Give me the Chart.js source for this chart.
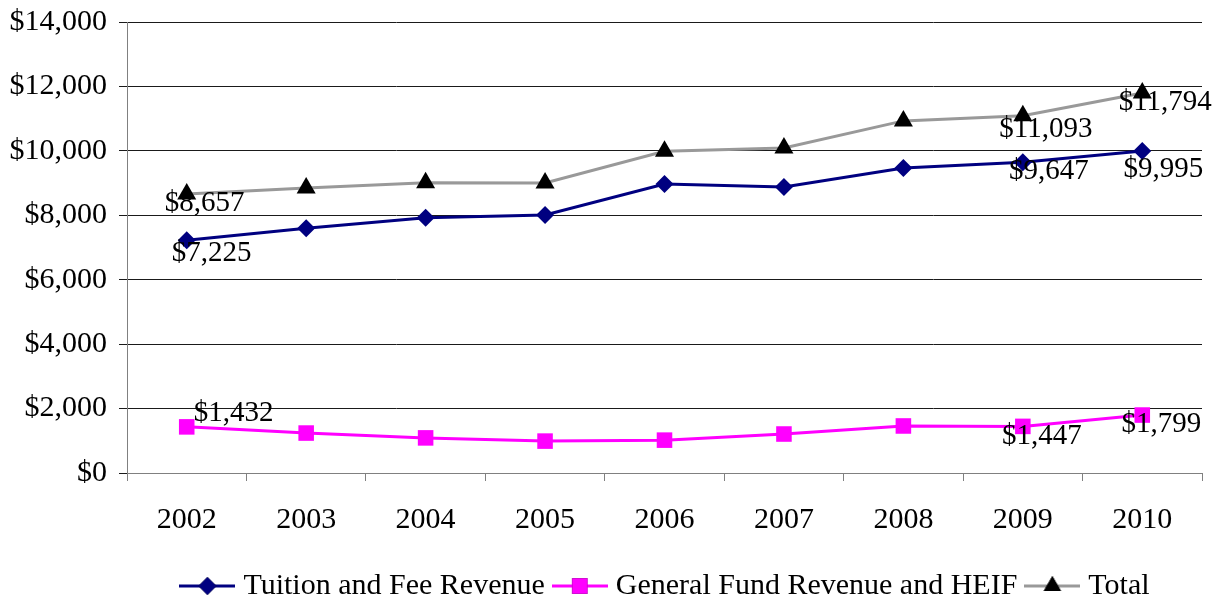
<!DOCTYPE html>
<html>
<head>
<meta charset="utf-8">
<script src="https://cdn.jsdelivr.net/npm/chart.js@4"></script>
<style>
  html, body { margin: 0; padding: 0; background: #fff; }
  #wrap { width: 1226px; height: 601px; }
</style>
</head>
<body>
<div id="wrap"><canvas id="revenueChart"></canvas></div>
<script>
// values
const years = ['2002', '2003', '2004', '2005', '2006', '2007', '2008', '2009', '2010'];
const tuitionRevenue = [7225, 7600, 7920, 8010, 8970, 8880, 9470, 9647, 9995];
const generalFundRevenue = [1432, 1240, 1090, 990, 1020, 1210, 1460, 1447, 1799];
const totalRevenue = [8657, 8850, 9010, 9000, 9990, 10090, 10930, 11093, 11794];
const yTicks = [0, 2000, 4000, 6000, 8000, 10000, 12000, 14000];

const FONT = 'Liberation Serif, Times New Roman, serif';

// legend icon: short line with the marker in the middle
function legendIcon(lineColor, style, markerColor, r) {
    const c = document.createElement('canvas');
    c.width = 56;
    c.height = 24;
    const ctx = c.getContext('2d');
    ctx.strokeStyle = lineColor;
    ctx.lineWidth = 3;
    ctx.beginPath();
    ctx.moveTo(0, 12);
    ctx.lineTo(56, 12);
    ctx.stroke();
    Chart.helpers.drawPoint(ctx, { pointStyle: style, radius: r, borderWidth: 0 }, 28, 12);
    ctx.fillStyle = markerColor;
    ctx.fill();
    return c;
}

// which points carry a value label, and where the text sits relative to the point
const labelSpots = [
    [{ i: 0, dx: 25, dy: 13 }, { i: 7, dx: 26, dy: 9 }, { i: 8, dx: 21, dy: 18 }],
    [{ i: 0, dx: 47, dy: -13 }, { i: 7, dx: 19, dy: 10 }, { i: 8, dx: 19, dy: 9 }],
    [{ i: 0, dx: 18, dy: 9 }, { i: 7, dx: 23, dy: 14 }, { i: 8, dx: 23, dy: 9 }]
];

const pointLabels = {
    id: 'pointLabels',
    afterDatasetsDraw(chart) {
        const ctx = chart.ctx;
        ctx.save();
        ctx.font = '29px ' + FONT;
        ctx.fillStyle = '#000';
        ctx.textAlign = 'center';
        ctx.textBaseline = 'middle';
        chart.data.datasets.forEach((ds, d) => {
            const meta = chart.getDatasetMeta(d);
            labelSpots[d].forEach(s => {
                const p = meta.data[s.i];
                ctx.fillText('$' + ds.data[s.i].toLocaleString('en-US'), p.x + s.dx, p.y + s.dy);
            });
        });
        ctx.restore();
    }
};

// nudge the legend a bit right and down, like the original
const legendShift = {
    id: 'legendShift',
    afterLayout(chart) {
        const lg = chart.legend;
        lg.left += 67;
        lg.right += 67;
        lg.top += 10;
        lg.bottom += 10;
    }
};

new Chart(document.getElementById('revenueChart'), {
    type: 'line',
    data: {
        labels: years,
        datasets: [{
            label: 'Tuition and Fee Revenue',
            data: tuitionRevenue,
            borderColor: '#000080',
            backgroundColor: '#000080',
            borderWidth: 3,
            pointStyle: 'rectRot',
            pointRadius: 9,
            pointBorderWidth: 0,
            icon: legendIcon('#000080', 'rectRot', '#000080', 9)
        }, {
            label: 'General Fund Revenue and HEIF',
            data: generalFundRevenue,
            borderColor: '#ff00ff',
            backgroundColor: '#ff00ff',
            borderWidth: 3,
            pointStyle: 'rect',
            pointRadius: 11,
            pointBorderWidth: 0,
            icon: legendIcon('#ff00ff', 'rect', '#ff00ff', 11)
        }, {
            label: 'Total',
            data: totalRevenue,
            borderColor: '#999999',
            backgroundColor: '#000000',
            pointBackgroundColor: '#000000',
            borderWidth: 3,
            pointStyle: 'triangle',
            pointRadius: 11,
            pointBorderWidth: 0,
            icon: legendIcon('#999999', 'triangle', '#000000', 10)
        }]
    },
    options: {
        responsive: true,
        maintainAspectRatio: false,
        animation: false,
        layout: {
            padding: { top: 22, right: 24, bottom: 0, left: 0 }
        },
        scales: {
            x: {
                offset: true,
                grid: {
                    offset: true,
                    drawOnChartArea: false,
                    drawTicks: true,
                    tickLength: 8,
                    color: '#808080'
                },
                border: { color: '#808080', width: 1 },
                ticks: {
                    color: '#000',
                    font: { family: FONT, size: 30 },
                    padding: 21,
                    maxRotation: 0
                },
                afterFit: scale => { scale.height = 74; }
            },
            y: {
                min: 0,
                max: 14000,
                afterBuildTicks: scale => { scale.ticks = yTicks.map(v => ({ value: v })); },
                grid: {
                    color: '#1a1a1a',
                    tickLength: 8,
                    drawTicks: true
                },
                border: { color: '#808080', width: 1 },
                ticks: {
                    color: '#000',
                    font: { family: FONT, size: 30 },
                    padding: 12,
                    callback: v => '$' + v.toLocaleString('en-US')
                },
                afterFit: scale => {
                    scale.width = 127;
                    scale.paddingTop = 0;
                    scale.paddingBottom = 0;
                }
            }
        },
        plugins: {
            legend: {
                display: true,
                position: 'bottom',
                labels: {
                    color: '#000',
                    font: { family: FONT, size: 30 },
                    usePointStyle: true,
                    pointStyleWidth: 42,
                    padding: 14,
                    generateLabels: chart => chart.data.datasets.map((ds, i) => ({
                        text: ds.label,
                        pointStyle: ds.icon,
                        fillStyle: ds.borderColor,
                        strokeStyle: ds.borderColor,
                        lineWidth: 0,
                        hidden: false,
                        datasetIndex: i
                    }))
                }
            },
            tooltip: { enabled: false }
        }
    },
    plugins: [pointLabels, legendShift]
});
</script>
</body>
</html>
